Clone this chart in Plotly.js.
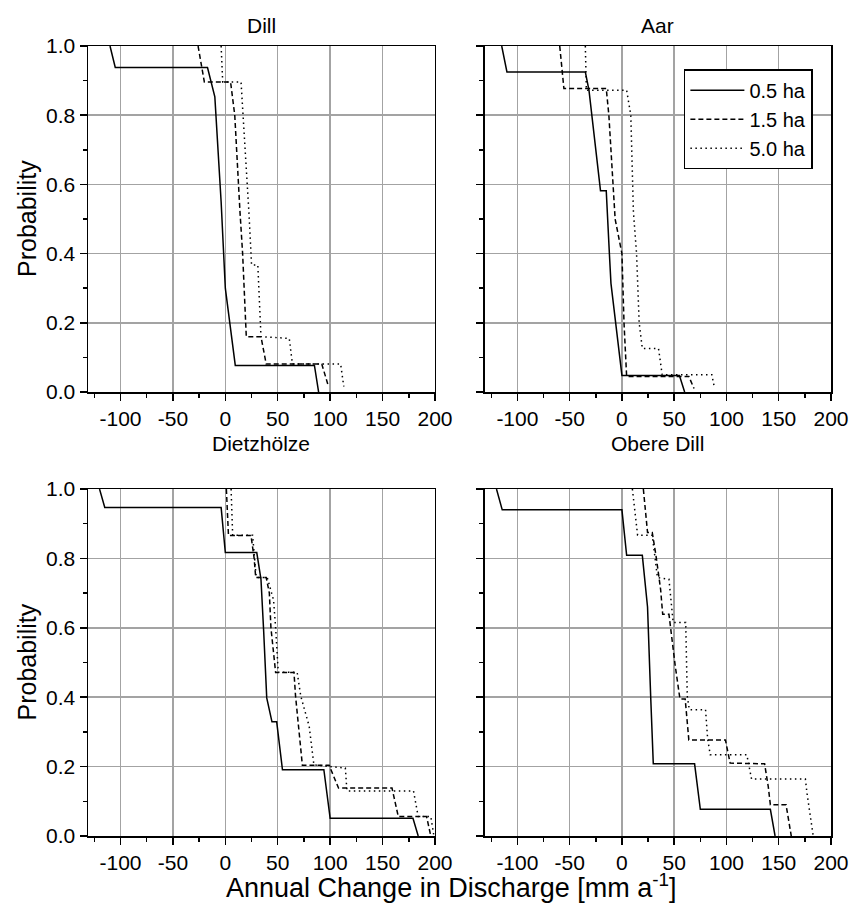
<!DOCTYPE html>
<html><head><meta charset="utf-8">
<script src="https://cdn.plot.ly/plotly-3.0.1.min.js"></script>
<style>html,body{margin:0;padding:0;background:#fff}</style>
</head><body><div id="chart" style="width:850px;height:906px"></div>
<script>
const panelTitles = ['Dill', 'Aar', 'Dietzhölze', 'Obere Dill'];
const seriesNames = ['0.5 ha', '1.5 ha', '5.0 ha'];
const xTickVals = [-100, -50, 0, 50, 100, 150, 200];
const yTickVals = [0, 0.2, 0.4, 0.6, 0.8, 1.0];
const yAxisTitle = 'Probability';
const xAxisTitle = 'Annual Change in Discharge [mm a<sup>-1</sup>]';

// Dill
const dill_05_x = [-110, -105, -17, -10, -4, -1.5, 0, 9.5, 85, 89];
const dill_05_y = [1, 0.938, 0.938, 0.853, 0.55, 0.4, 0.3, 0.077, 0.077, 0];
const dill_15_x = [-26, -20, 5, 9, 14, 16.5, 20, 34, 39, 92, 98];
const dill_15_y = [1, 0.896, 0.896, 0.8, 0.52, 0.4, 0.16, 0.16, 0.081, 0.081, 0.02];
const dill_50_x = [-4, -2.5, 15, 17, 22.5, 24.5, 25, 31, 34, 61, 64, 110, 113];
const dill_50_y = [1, 0.896, 0.896, 0.8, 0.52, 0.4, 0.367, 0.367, 0.16, 0.155, 0.081, 0.081, 0.016];

// Aar
const aar_05_x = [-115, -110, -35, -31.5, -20.5, -15, -12, -10.5, 0, 55, 60];
const aar_05_y = [1, 0.925, 0.925, 0.872, 0.582, 0.582, 0.4, 0.314, 0.048, 0.048, 0];
const aar_15_x = [-59.5, -55.5, -15, -12.5, -6.5, 0, 2, 4.5, 64, 69];
const aar_15_y = [1, 0.877, 0.877, 0.8, 0.5, 0.4, 0.2, 0.045, 0.045, 0.01];
const aar_50_x = [-35, -34, 4.5, 8.5, 11, 14, 16.5, 19.5, 35, 38.5, 86, 88];
const aar_50_y = [1, 0.872, 0.872, 0.8, 0.52, 0.4, 0.2, 0.126, 0.126, 0.05, 0.05, 0.02];

// Dietzhölze
const dietz_05_x = [-120, -115, -4, 0, 30, 34, 36.5, 39.5, 44.5, 49, 54.5, 94, 100, 179, 184];
const dietz_05_y = [1, 0.947, 0.947, 0.817, 0.817, 0.74, 0.595, 0.398, 0.329, 0.329, 0.191, 0.191, 0.051, 0.051, 0];
const dietz_15_x = [1, 3, 24.5, 27.5, 29, 39, 42, 43.5, 48, 65.5, 67, 73.5, 99, 102, 108, 159, 165, 192, 196];
const dietz_15_y = [1, 0.866, 0.866, 0.8, 0.745, 0.745, 0.7, 0.6, 0.471, 0.471, 0.403, 0.204, 0.204, 0.182, 0.138, 0.138, 0.056, 0.056, 0];
const dietz_50_x = [5.5, 7, 26, 29.5, 40, 46, 48, 50.5, 68.5, 72, 80, 84.5, 114.5, 116, 179.5, 184, 196, 199];
const dietz_50_y = [1, 0.867, 0.867, 0.745, 0.745, 0.68, 0.6, 0.472, 0.472, 0.403, 0.316, 0.205, 0.196, 0.13, 0.13, 0.056, 0.056, 0];

// Obere Dill
const obere_05_x = [-120, -114.5, 0, 4.5, 19.5, 22.5, 24.5, 27.5, 30, 69.5, 75, 142, 146.5];
const obere_05_y = [1, 0.94, 0.94, 0.809, 0.809, 0.711, 0.66, 0.403, 0.208, 0.208, 0.077, 0.077, 0];
const obere_15_x = [20.5, 24.5, 29, 32.5, 37, 39, 45, 48, 51, 55.5, 60.5, 64, 99, 103.5, 136.5, 140, 142, 157, 162];
const obere_15_y = [1, 0.875, 0.875, 0.81, 0.711, 0.639, 0.639, 0.557, 0.49, 0.395, 0.395, 0.277, 0.277, 0.21, 0.208, 0.142, 0.09, 0.09, 0];
const obere_50_x = [10, 15, 29, 34, 45, 49, 61, 62.5, 64.5, 80, 82, 84.5, 119.5, 124, 175.5, 177, 183];
const obere_50_y = [1, 0.867, 0.867, 0.745, 0.74, 0.615, 0.615, 0.403, 0.364, 0.364, 0.28, 0.234, 0.234, 0.164, 0.164, 0.124, 0];

const panels = [
  [[dill_05_x, dill_05_y], [dill_15_x, dill_15_y], [dill_50_x, dill_50_y]],
  [[aar_05_x, aar_05_y], [aar_15_x, aar_15_y], [aar_50_x, aar_50_y]],
  [[dietz_05_x, dietz_05_y], [dietz_15_x, dietz_15_y], [dietz_50_x, dietz_50_y]],
  [[obere_05_x, obere_05_y], [obere_15_x, obere_15_y], [obere_50_x, obere_50_y]]
];
const dashes = ['solid', '5px,3px', '1.5px,3.5px'];

const traces = [];
panels.forEach((p, i) => {
  const sfx = i === 0 ? '' : String(i + 1);
  p.forEach((s, j) => {
    traces.push({
      x: s[0], y: s[1], type: 'scatter', mode: 'lines',
      name: seriesNames[j], legendgroup: seriesNames[j], showlegend: i === 0,
      xaxis: 'x' + sfx, yaxis: 'y' + sfx,
      line: {color: '#000', width: 1.5, dash: dashes[j]},
      hoverinfo: 'skip'
    });
  });
});

const FONT = 'Liberation Sans, Arial, sans-serif';
const xDomains = [[0, 0.467], [0.5343, 1], [0, 0.467], [0.5343, 1]];
const yDomains = [[0.562, 1], [0.562, 1], [0, 0.4392], [0, 0.4392]];
const xRange = [-131, 200];
const yRange = [0, 1];

const layout = {
  width: 850, height: 906,
  margin: {l: 88, r: 19, t: 46, b: 70},
  paper_bgcolor: '#fff', plot_bgcolor: '#fff',
  font: {family: FONT, color: '#000', size: 21},
  showlegend: true,
  legend: {
    x: 0.802, y: 0.9705, xanchor: 'left', yanchor: 'top',
    xref: 'paper', yref: 'paper',
    bgcolor: '#fff', bordercolor: '#000', borderwidth: 1.5,
    font: {family: FONT, size: 20, color: '#000'},
    itemwidth: 54,
    tracegroupgap: 0
  },
  annotations: [],
  hovermode: false
};

for (let i = 0; i < 4; i++) {
  const n = i + 1;
  const ax = n === 1 ? 'xaxis' : 'xaxis' + n;
  const ay = n === 1 ? 'yaxis' : 'yaxis' + n;
  const xr = n === 1 ? 'x' : 'x' + n;
  const yr = n === 1 ? 'y' : 'y' + n;
  layout[ax] = {
    domain: xDomains[i], anchor: yr, range: xRange,
    tickvals: xTickVals, ticktext: xTickVals.map(String),
    ticks: 'outside', ticklen: 7, tickwidth: 1.5, tickcolor: '#000',
    minor: {dtick: 25, tick0: 0, ticks: 'outside', ticklen: 4, tickwidth: 1.5, tickcolor: '#000', showgrid: false},
    showgrid: true, gridcolor: '#a3a3a3', gridwidth: 1.5,
    zeroline: false, showline: true, linecolor: '#000', linewidth: 1.5, mirror: true,
    tickfont: {family: FONT, size: 21, color: '#000'}, fixedrange: true
  };
  layout[ay] = {
    domain: yDomains[i], anchor: xr, range: yRange,
    tickvals: yTickVals, ticktext: yTickVals.map(v => v.toFixed(1)),
    showticklabels: (i % 2 === 0),
    ticks: 'outside', ticklen: 7, tickwidth: 1.5, tickcolor: '#000',
    minor: {dtick: 0.1, tick0: 0, ticks: 'outside', ticklen: 4, tickwidth: 1.5, tickcolor: '#000', showgrid: false},
    showgrid: true, gridcolor: '#a3a3a3', gridwidth: 1.5,
    zeroline: false, showline: true, linecolor: '#000', linewidth: 1.5, mirror: true,
    tickfont: {family: FONT, size: 21, color: '#000'}, fixedrange: true
  };
  // inside ticks on top and right
  const tn = n + 4;
  layout['xaxis' + tn] = {
    overlaying: xr, anchor: yr, side: 'top', range: xRange,
    tickvals: xTickVals, showticklabels: false,
    ticks: 'inside', ticklen: 5, tickwidth: 1.5, tickcolor: '#000',
    minor: {dtick: 25, tick0: 0, ticks: 'inside', ticklen: 3, tickwidth: 1.5, tickcolor: '#000', showgrid: false},
    showgrid: false, zeroline: false, showline: false, fixedrange: true
  };
  layout['yaxis' + tn] = {
    overlaying: yr, anchor: xr, side: 'right', range: yRange,
    tickvals: yTickVals, showticklabels: false,
    ticks: 'inside', ticklen: 5, tickwidth: 1.5, tickcolor: '#000',
    minor: {dtick: 0.1, tick0: 0, ticks: 'inside', ticklen: 3, tickwidth: 1.5, tickcolor: '#000', showgrid: false},
    showgrid: false, zeroline: false, showline: false, fixedrange: true
  };
  // panel titles
  const yTitle = i < 2 ? 1.0262 : 0.4973;
  layout.annotations.push({
    text: panelTitles[i], xref: 'paper', yref: 'paper',
    x: (xDomains[i][0] + xDomains[i][1]) / 2, y: yTitle,
    xanchor: 'center', yanchor: 'middle', showarrow: false,
    font: {family: FONT, size: 21, color: '#000'}
  });
}
// y titles
[0.781, 0.2196].forEach(yc => {
  layout.annotations.push({
    text: yAxisTitle, xref: 'paper', yref: 'paper',
    x: (27 - 88) / 743, y: yc, xanchor: 'center', yanchor: 'middle',
    textangle: -90, showarrow: false,
    font: {family: FONT, size: 25, color: '#000'}
  });
});
// x title
layout.annotations.push({
  text: xAxisTitle, xref: 'paper', yref: 'paper',
  x: (451 - 88) / 743, y: (836 - 905) / 790, xanchor: 'center', yanchor: 'bottom', showarrow: false,
  font: {family: FONT, size: 27, color: '#000'}
});

Plotly.newPlot('chart', traces, layout, {staticPlot: true, displayModeBar: false});
</script></body></html>
